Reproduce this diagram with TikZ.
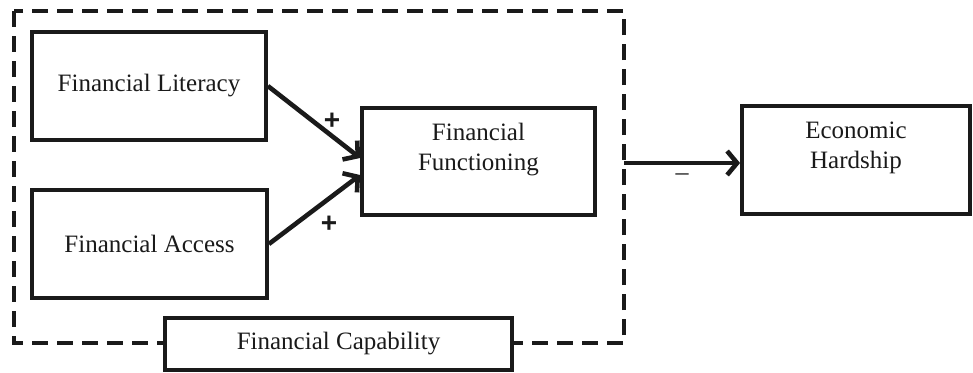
\documentclass[tikz,border=0pt]{standalone}
\usepackage{fontspec}
\setmainfont{Liberation Serif}
\newfontfamily\signfont{Liberation Sans}
\usetikzlibrary{arrows.meta}
\definecolor{ink}{HTML}{1A1A1A}
\begin{document}
\begin{tikzpicture}[x=1pt,y=-1pt,
  box/.style={draw=ink, line width=3.8pt, fill=white, inner sep=0pt},
  lbl/.style={font=\fontsize{25}{30}\selectfont, text=ink, align=center, inner sep=0pt},
  conn/.style={draw=ink, line width=4.6pt, -{Straight Barb[length=10pt,width=24pt]}},
  sign/.style={font=\signfont\bfseries\fontsize{28}{28}\selectfont, text=ink, inner sep=0pt},
  frame/.style={draw=ink, line width=3.6pt, dash pattern=on 16pt off 9pt}]
\useasboundingbox (0,0) rectangle (973,372);
% dashed frame
\draw[frame] (14,11) rectangle (624,343);
\coordinate (frameR) at (624,163);
% boxes
\node[box, minimum width=234pt, minimum height=108pt] (lit) at (149,86) {};
\node[box, minimum width=235pt, minimum height=108pt] (acc) at (149.5,244) {};
\node[box, minimum width=233pt, minimum height=107pt] (fun) at (478.5,161.5) {};
\node[box, minimum width=228pt, minimum height=108pt] (eco) at (856,160) {};
\node[box, minimum width=347pt, minimum height=52pt] (cap) at (338.5,344) {};
% texts
\node[lbl] (litt) at (lit.center) {Financial Literacy};
\node[lbl] (acct) at (acc.center) {Financial Access};
\node[lbl] (funt) at (478.5,150) {Financial\\Functioning};
\node[lbl] (ecot) at (856,148) {Economic\\Hardship};
\node[lbl] (capt) at (cap.center) {Financial Capability};
% connectors
\draw[conn] (lit.east) -- ([yshift=3.5pt]fun.west);
\draw[conn] (acc.east) -- ([yshift=-13.5pt]fun.west);
\draw[conn] (frameR) -- ([yshift=-3pt]eco.west);
% signs
\node[sign] (s1) at (332,121) {+};
\node[sign] (s2) at (329,224) {+};
\node[lbl] (s3) at (682,177) {\fontsize{26}{26}\selectfont –};
\end{tikzpicture}
\end{document}
